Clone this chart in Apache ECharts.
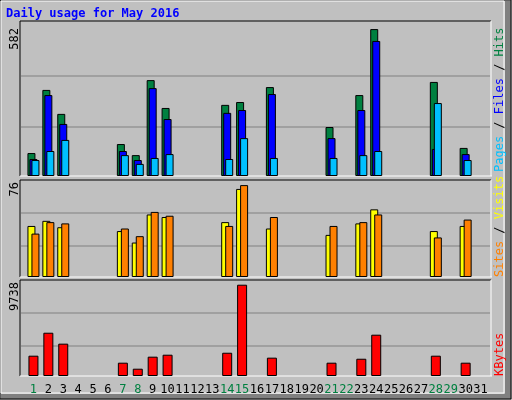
<!DOCTYPE html>
<html><head><meta charset="utf-8">
<script src="https://cdn.jsdelivr.net/npm/echarts@6/dist/echarts.min.js"></script>
<style>html,body{margin:0;padding:0;background:#c0c0c0}#c{width:512px;height:400px}</style>
</head><body><div id="c"></div>
<script>
// Webalizer-style daily usage, May 2016
const days = Array.from({ length: 31 }, (_, i) => String(i + 1));
const weekend = ['1', '7', '8', '14', '15', '21', '22', '28', '29'];
const hits  = [89, 334, 241, 0, 0, 0, 124, 81, 372, 264, 0, 0, 0, 276, 287, 0, 345, 0, 0, 0, 190, 0, 314, 570, 0, 0, 0, 365, 0, 109, 0];
const files = [66, 314, 202, 0, 0, 0, 97, 62, 341, 221, 0, 0, 0, 245, 256, 0, 318, 0, 0, 0, 147, 0, 256, 524, 0, 0, 0, 105, 0, 85, 0];
const pages = [62, 97, 140, 0, 0, 0, 81, 47, 70, 85, 0, 0, 0, 66, 147, 0, 70, 0, 0, 0, 70, 0, 81, 97, 0, 0, 0, 283, 0, 62, 0];
const visits = [40, 44, 39, 0, 0, 0, 36, 27, 49, 47, 0, 0, 0, 43, 69, 0, 38, 0, 0, 0, 33, 0, 42, 53, 0, 0, 0, 36, 0, 40, 0];
const sites  = [34, 43, 42, 0, 0, 0, 38, 32, 51, 48, 0, 0, 0, 40, 72, 0, 47, 0, 0, 0, 40, 0, 43, 49, 0, 0, 0, 31, 0, 45, 0];
const kbytes = [2060, 4390, 3280, 0, 0, 0, 1350, 740, 1960, 2160, 0, 0, 0, 2360, 9260, 0, 1860, 0, 0, 0, 1350, 0, 1750, 4190, 0, 0, 0, 2060, 0, 1350, 0];
const maxima = [582, 76, 9738];

const FONT = 'DejaVu Sans Mono';
const nz = a => a.map(v => (v > 0 ? v : null));
const panels = [[26, 150], [180, 97], [280, 96]];

const grid = panels.map(([top, height]) => ({ left: 26, width: 462, top, height }));
const xAxis = panels.map((_, i) => ({
  type: 'category', gridIndex: i, data: days,
  axisLine: { show: false }, axisTick: { show: false }, splitLine: { show: false },
  axisLabel: i < 2 ? { show: false } : {
    fontFamily: FONT, fontSize: 12, margin: 8, interval: 0,
    color: (v) => (weekend.includes(v) ? '#008040' : '#000'),
  },
}));
const yAxis = maxima.map((m, i) => ({
  type: 'value', gridIndex: i, min: 0, max: m, interval: m / 3,
  axisLabel: { show: false }, axisLine: { show: false }, axisTick: { show: false },
  splitLine: { show: false },
}));

const bar = (name, data, color, gi, width, gap) => ({
  name, type: 'bar', xAxisIndex: gi, yAxisIndex: gi, data: nz(data),
  barWidth: width, barGap: gap, animation: false,
  itemStyle: { color, borderColor: '#000', borderWidth: 1 },
});

// frames, gridlines and labels
const g = [];
const frames = [[21, 176], [180, 277], [280, 376]];
frames.forEach(([t, b]) => {
  const h = b - t;
  g.push({ type: 'line', shape: { x1: 20, y1: t, x2: 491, y2: t }, style: { stroke: '#000', lineWidth: 1 } });
  g.push({ type: 'line', shape: { x1: 20, y1: t, x2: 20, y2: b }, style: { stroke: '#000', lineWidth: 1 } });
  g.push({ type: 'line', shape: { x1: 20, y1: b, x2: 492, y2: b }, style: { stroke: '#fff', lineWidth: 1 } });
  g.push({ type: 'line', shape: { x1: 491, y1: t, x2: 491, y2: b }, style: { stroke: '#fff', lineWidth: 1 } });
});
[[76, 127], [213, 246], [313, 346]].forEach(ys => ys.forEach(y =>
  g.push({ type: 'line', z: -1, shape: { x1: 21, y1: y, x2: 490, y2: y }, style: { stroke: '#808080', lineWidth: 1 } })));
// outer 3D border
g.push({ type: 'rect', z: -2, shape: { x: 0, y: 0, width: 511, height: 399 }, style: { fill: 'none', stroke: '#000' } });
g.push({ type: 'rect', z: -2, shape: { x: 1, y: 1, width: 503, height: 392 }, style: { fill: 'none', stroke: '#fff', lineWidth: 1 } });
g.push({ type: 'rect', z: -3, shape: { x: 505, y: 1, width: 6, height: 398 }, style: { fill: '#808080' } });
g.push({ type: 'rect', z: -3, shape: { x: 1, y: 394, width: 510, height: 5 }, style: { fill: '#808080' } });
g.push({ type: 'text', left: 6, top: 8, style: { text: 'Daily usage for May 2016', fill: '#0000ff', font: 'bold 12px ' + FONT } });
[['582', 28], ['76', 182], ['9738', 282]].forEach(([t, y]) => g.push({
  type: 'text', x: 9, y, rotation: Math.PI / 2,
  style: { text: t, fill: '#000', font: '12px ' + FONT, align: 'right', verticalAlign: 'top' },
}));
const rich = (parts, x, y) => g.push({
  type: 'text', x, y, rotation: Math.PI / 2,
  style: {
    text: parts.map((p, i) => `{s${i}|${p[0]}}`).join(''),
    rich: Object.fromEntries(parts.map((p, i) => [`s${i}`, { fill: p[1], font: '12px ' + FONT }])),
    align: 'left', verticalAlign: 'top',
  },
});
rich([['Pages', '#00c0ff'], [' / ', '#000'], ['Files', '#0000ff'], [' / ', '#000'], ['Hits', '#008040']], 494, 172);
rich([['Sites', '#ff8000'], [' / ', '#000'], ['Visits', '#ffff00']], 494, 277);
rich([['KBytes', '#ff0000']], 494, 376);

echarts.init(document.getElementById('c')).setOption({
  backgroundColor: '#c0c0c0',
  animation: false,
  grid, xAxis, yAxis,
  graphic: g,
  series: [
    bar('Hits', hits, '#008040', 0, 8, '-75%'),
    bar('Files', files, '#0000ff', 0, 8, '-75%'),
    bar('Pages', pages, '#00c0ff', 0, 8, '-75%'),
    bar('Visits', visits, '#ffff00', 1, 8, '-50%'),
    bar('Sites', sites, '#ff8000', 1, 8, '-50%'),
    bar('KBytes', kbytes, '#ff0000', 2, 10, '0%'),
  ],
});
</script></body></html>
